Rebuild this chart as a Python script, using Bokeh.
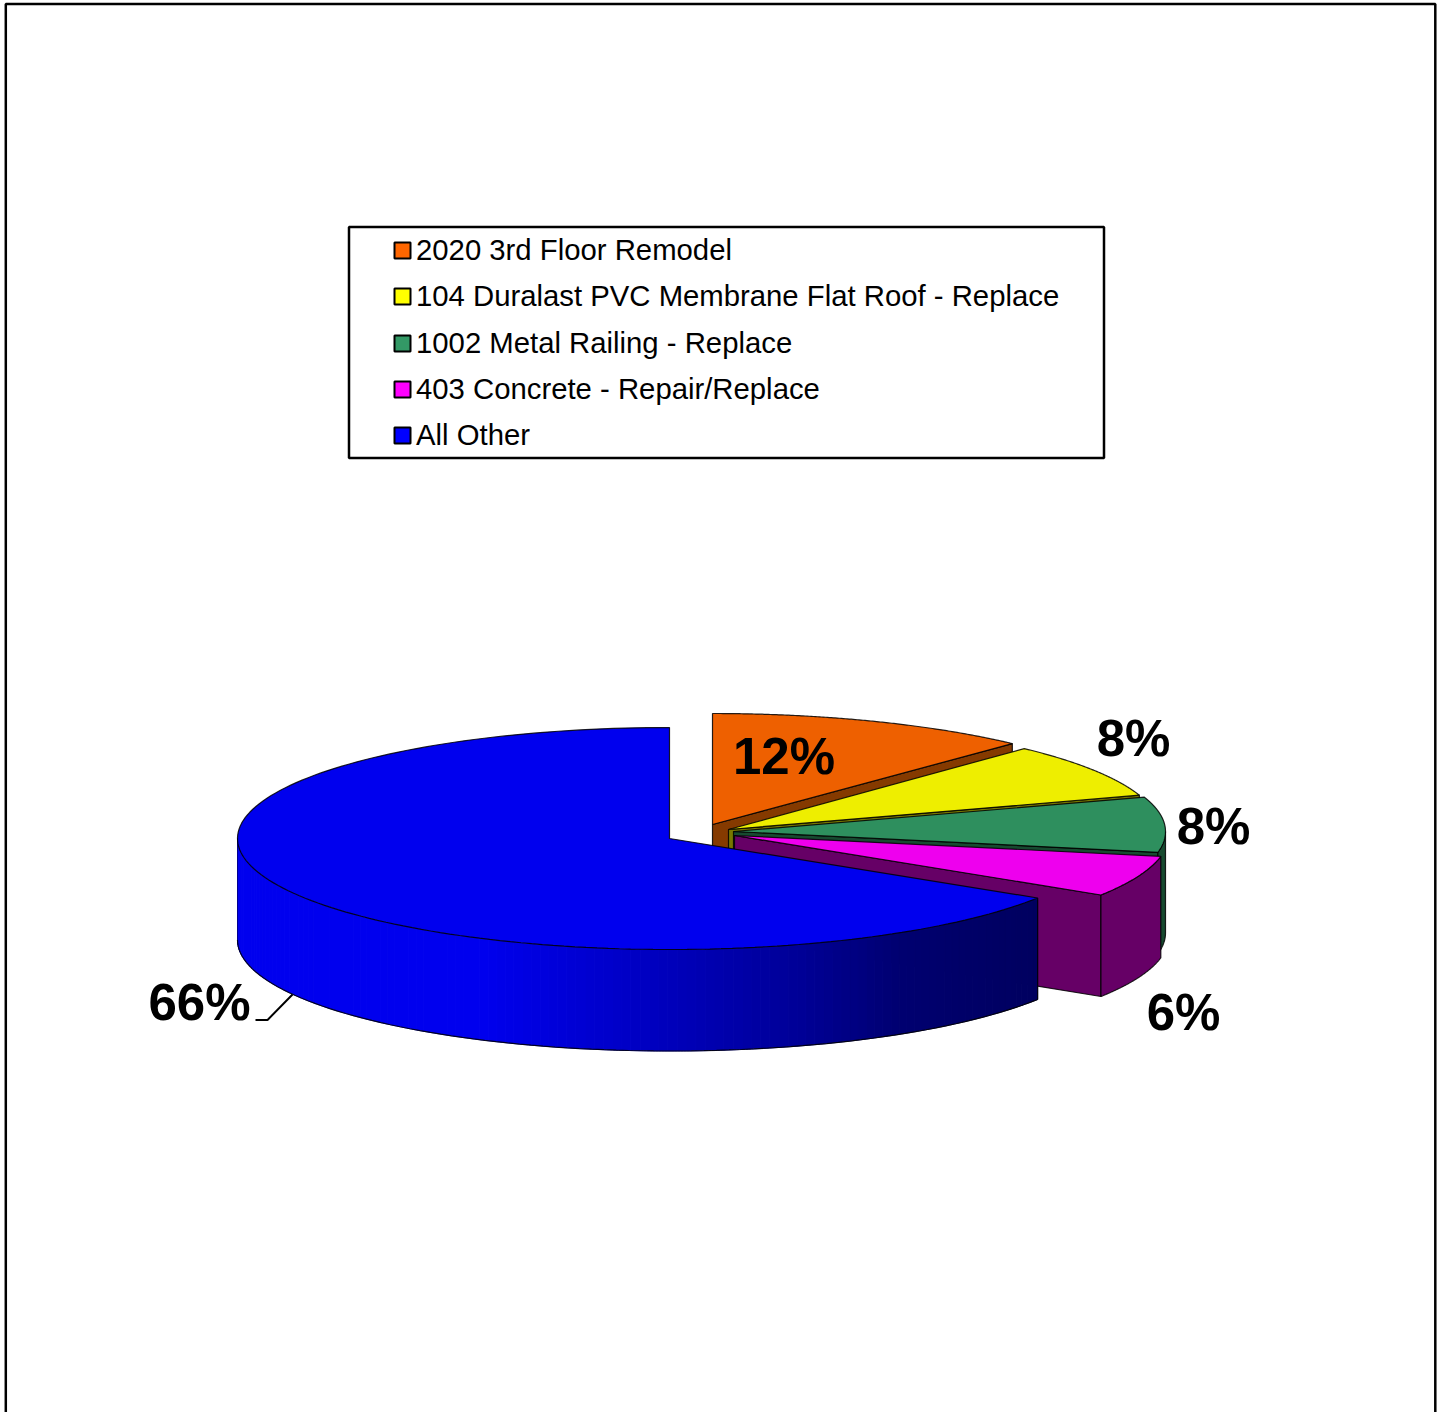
import numpy as np
from bokeh.core.properties import value
from bokeh.embed import file_html
from bokeh.plotting import figure
from bokeh.resources import INLINE

# Chart data
categories = ["2020 3rd Floor Remodel", "104 Duralast PVC Membrane Flat Roof - Replace",
              "1002 Metal Railing - Replace", "403 Concrete - Repair/Replace", "All Other"]
shares = [12, 8, 8, 6, 66]
share_labels = ["12%", "8%", "8%", "6%", "66%"]

# Slice colours
legend_colors = ["#FF6600", "#FFFF00", "#339966", "#FF00FF", "#0000FF"]
top_colors = ["#EE6000", "#EEEE00", "#2E8F5E", "#EE00EE", "#0000EE"]
side_colors = ["#853A00", "#777700", "#174A30", "#660066", "#0000EE"]

# Pie projection: page-pixel layout of the tilted, exploded pie
RY, DEPTH = 111, 101.5
rx_right = [438, 432, 432, 434, 436]
RX_LEFT = 432
apex_x = [712, 728, 733, 734, 669]
apex_y = [824, 829, 831, 835, 838]
label_x = [783.5, 1133, 1213, 1183, 199]
label_y = [756, 738, 826, 1012, 1002]

W, H = 1443, 1412
p = figure(width=W, height=H, x_range=(0, W), y_range=(H, 0), output_backend="svg",
           toolbar_location=None, min_border=0, outline_line_color=None,
           background_fill_color="white", border_fill_color="white")
p.axis.visible = False
p.grid.visible = False


def rim(i, a0, a1, n=90):
    t = np.radians(np.linspace(a0, a1, n))
    s = np.sin(t)
    return apex_x[i] + np.where(s > 0, rx_right[i], RX_LEFT) * s, apex_y[i] - RY * np.cos(t)


def blue_shade(x):
    # Lighting of the curved wall of the large slice: bright on the left, dark on the right
    return "#0000%02X" % int(round(np.interp(x, [480, 650, 800, 900, 1037], [238, 192, 150, 112, 95])))


edge = dict(line_color="#000000", line_width=1.2, line_alpha=0.85)
angles = np.concatenate([[0], np.cumsum(shares)]) * 3.6

for i in range(len(shares)):
    a0, a1 = angles[i], angles[i + 1]
    cx, cy = apex_x[i], apex_y[i]

    # Radial wall on the clockwise end, when it faces the viewer
    if a1 < 180:
        ex, ey = rim(i, a1, a1, 1)
        p.patch([cx, ex[0], ex[0], cx], [cy, ey[0], ey[0] + DEPTH, cy + DEPTH],
                fill_color=side_colors[i], **edge)

    # Curved outer wall, for the part of the rim on the near side
    lo, hi = max(a0, 90), min(a1, 270)
    if lo < hi:
        if i == 4:
            steps = np.linspace(lo, hi, 121)
            for s0, s1 in zip(steps[:-1], steps[1:]):
                x, y = rim(i, s0, s1, 4)
                c = blue_shade(x.mean())
                p.patch(np.r_[x, x[::-1]], np.r_[y, y[::-1] + DEPTH],
                        fill_color=c, line_color=c, line_width=1)
            x, y = rim(i, lo, hi)
            p.line(x, y + DEPTH, **edge)
            p.line([x[0], x[0]], [y[0], y[0] + DEPTH], **edge)
            p.line([x[-1], x[-1]], [y[-1], y[-1] + DEPTH], line_color="#000000", line_alpha=0.4)
        else:
            x, y = rim(i, lo, hi)
            p.patch(np.r_[x, x[::-1]], np.r_[y, y[::-1] + DEPTH],
                    fill_color=side_colors[i], **edge)

    # Top face
    x, y = rim(i, a0, a1, 160)
    p.patch(np.r_[cx, x], np.r_[cy, y], fill_color=top_colors[i], **edge)

# Percentage labels
p.text(label_x, label_y, text=share_labels, text_font=value("Liberation Sans"),
       text_font_style="bold", text_font_size="51px", text_align="center",
       text_baseline="middle", text_color="#000000")

# Leader line of the large slice
p.line([255, 267, 292], [1019.5, 1019.5, 994], line_color="#000000", line_width=2)

# Legend box
p.quad(left=[348.5], right=[1103.5], top=[226.5], bottom=[457.5], fill_color="white",
       line_color="#000000", line_width=2.5)
legend_y = [250, 296, 343, 389, 435]
p.scatter([402] * 5, legend_y, marker="square", size=16, fill_color=legend_colors,
          line_color="#000000", line_width=2)
p.text([415.5] * 5, [v - 1 for v in legend_y], text=categories, text_font=value("Liberation Sans"),
       text_font_size="29.3px", text_align="left", text_baseline="middle",
       text_color="#000000")

# Outer frame, running off the bottom of the page
p.line([5.3, 5.3, 1434.8, 1434.8], [H + 5, 3.5, 3.5, H + 5], line_color="#000000", line_width=2.5)

open("out.html", "w").write(file_html(p, INLINE))
